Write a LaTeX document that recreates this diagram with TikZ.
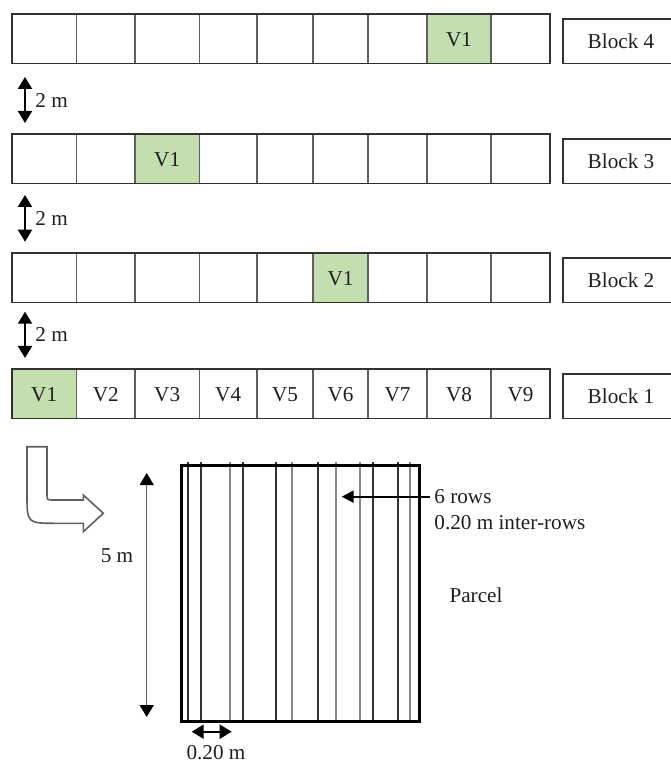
\documentclass[tikz,border=0pt]{standalone}
\usepackage{fontspec}
\setmainfont{Liberation Serif}
\usepackage{tikz}
\usetikzlibrary{arrows.meta}
\definecolor{vgreen}{RGB}{195,223,176}
\definecolor{edgedark}{RGB}{50,50,50}
\definecolor{edgegray}{RGB}{95,95,95}
\definecolor{rowlight}{RGB}{135,135,135}
\definecolor{textdark}{RGB}{30,30,30}
\tikzset{>=stealth}
\tikzset{%
    cellbox/.style={draw=edgegray,line width=0.75pt},
    rowframe/.style={draw=edgedark,line width=0.85pt},
    lbl/.style={inner sep=0pt,text=textdark,font=\fontsize{10.6}{12.7}\selectfont},
    bigtip/.style={-{Triangle[width=6pt,length=6pt]}},
    dimline/.style={{Triangle[width=7pt,length=6pt]}-{Triangle[width=7pt,length=6pt]},line width=1pt}
}

\begin{document}
\begin{tikzpicture}[x=0.5pt,y=-0.5pt]
    \useasboundingbox (0,0) rectangle (670,763);
    \foreach \blk/\yt/\vone in {4/14/8,3/134/3,2/253/6,1/369/1}{
        \foreach \i/\xa/\xb in {1/11.7/76.7,2/76.7/135,3/135/199.3,4/199.3/257,5/257/313,6/313/368,7/368/427,8/427/491,9/491/550}{
            \ifnum\i=\vone \fill[vgreen] (\xa,\yt) rectangle (\xb,\yt+49.5); \fi
            \draw[cellbox] (\xa,\yt) rectangle (\xb,\yt+49.5);
            \ifnum\blk=1
                \node[lbl] (c\blk-\i) at ({(\xa+\xb)/2},\yt+26) {V\i};
            \else\ifnum\i=\vone
                \node[lbl] (c\blk-\i) at ({(\xa+\xb)/2},\yt+26) {V1};
            \fi\fi
        }
        \draw[rowframe] (11.7,\yt) rectangle (550,\yt+49.5);
        \draw[rowframe] (563,\yt+5) rectangle (680,\yt+49.5);
        \node[lbl] (block\blk) at (621,\yt+27) {Block \blk};
    }
    \foreach \n/\ya/\yb in {1/77/123,2/195/241.7,3/311.7/358}{
        \coordinate (gap\n a) at (25,\ya);
        \coordinate (gap\n b) at (25,\yb);
        \draw[dimline] (gap\n a) -- (gap\n b);
        \node[lbl,anchor=west] (gap\n) at (35,{(\ya+\yb)/2}) {2 m};
    }
    \draw[draw=edgegray,line width=0.8pt,fill=white] (27,446.7) -- (47,446.7) -- (47,494)
        .. controls (47,500) .. (53,500) -- (83.3,500) -- (83.3,495) -- (103.3,513.3)
        -- (83.3,531.7) -- (83.3,523.3) -- (56,523.3) .. controls (27,523.3) .. (27,494) -- cycle;
    \foreach \x/\c in {187.7/edgedark,200.7/edgedark,230/rowlight,242.7/edgedark,275.7/edgedark,292.3/rowlight,318.3/edgedark,335.7/rowlight,360/rowlight,373.3/edgedark,398.3/edgedark,410/rowlight}
        \draw[\c,line width=0.85pt] (\x,462) -- (\x,721.7);
    \draw[black,line width=1.5pt] (181.7,465) rectangle (419.3,721.7);
    \coordinate (htop) at (146.7,473);
    \coordinate (hbot) at (146.7,717);
    \draw[{Triangle[width=7pt,length=6pt,color=black]}-{Triangle[width=7pt,length=6pt,color=black]},edgegray,line width=0.6pt] (htop) -- (hbot);
    \node[lbl] (height) at (117,556) {5 m};
    \coordinate (rowtail) at (430,496.7);
    \coordinate (rowtip) at (341.7,496.7);
    \draw[bigtip,line width=1.1pt] (rowtail) -- (rowtip);
    \node[lbl,anchor=west] (rows) at (434,496.7) {6 rows};
    \node[lbl,anchor=west] (inter) at (434,523) {0.20 m inter-rows};
    \node[lbl] (parcel) at (476,595) {Parcel};
    \coordinate (spa) at (191.7,731.7);
    \coordinate (spb) at (231.7,731.7);
    \draw[dimline] (spa) -- (spb);
    \node[lbl] (spacing) at (216,753) {0.20 m};
\end{tikzpicture}
\end{document}
